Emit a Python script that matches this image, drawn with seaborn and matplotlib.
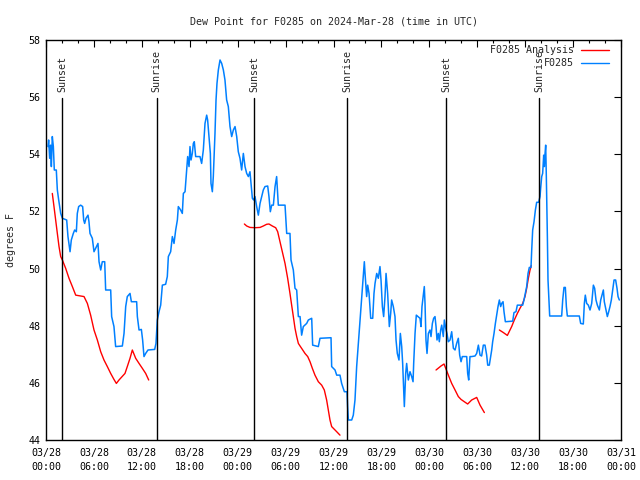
import matplotlib
matplotlib.use("Agg")
import matplotlib.pyplot as plt
import seaborn as sns
import pandas as pd

# observed dew point (hours after 2024-03-28 00:00 UTC, degrees F)
obs_hours = [
    0.25, 0.33, 0.46, 0.58, 0.67, 0.79, 0.92, 1.04, 1.29, 1.42, 1.59, 1.84, 2.05, 2.59, 2.75, 3.01, 3.17, 3.42,
    3.59, 3.80, 3.92, 4.09, 4.34, 4.59, 4.72, 4.84, 5.01, 5.26, 5.38, 5.51, 5.80, 6.01, 6.22, 6.51, 6.64, 6.85,
    7.05, 7.35, 7.47, 8.10, 8.22, 8.51, 8.72, 9.56, 9.77, 9.98, 10.18, 10.52, 10.69, 11.35, 11.44, 11.65, 11.94,
    12.10, 12.27, 12.48, 12.77, 13.61, 13.77, 13.94, 14.15, 14.36, 14.57, 14.98, 15.19, 15.32, 15.61, 15.82,
    16.03, 16.24, 16.45, 16.57, 16.86, 17.07, 17.20, 17.41, 17.74, 17.91, 18.03, 18.16, 18.32, 18.45, 18.57,
    18.74, 19.28, 19.49, 19.70, 19.91, 20.12, 20.24, 20.41, 20.58, 20.66, 20.83, 20.95, 21.16, 21.29, 21.41,
    21.58, 21.79, 22.00, 22.21, 22.41, 22.62, 22.83, 23.04, 23.25, 23.46, 23.67, 23.88, 24.08, 24.29, 24.50,
    24.71, 24.92, 25.13, 25.34, 25.54, 25.67, 25.84, 26.00, 26.17, 26.38, 26.59, 26.80, 27.01, 27.21, 27.42,
    27.76, 27.92, 28.09, 28.26, 28.47, 28.68, 28.88, 29.09, 29.93, 30.14, 30.55, 30.68, 30.97, 31.18, 31.39,
    31.60, 31.81, 32.01, 32.22, 32.64, 32.85, 33.27, 33.39, 34.10, 34.31, 35.69, 35.77, 36.19, 36.40, 36.81,
    37.02, 37.36, 37.69, 37.77, 37.86, 38.28, 38.48, 38.69, 38.90, 39.11, 39.32, 39.53, 39.74, 39.86, 39.95,
    40.15, 40.28, 40.45, 40.66, 40.91, 41.07, 41.20, 41.41, 41.61, 41.82, 41.95, 42.12, 42.28, 42.45, 42.58,
    42.78, 42.99, 43.16, 43.28, 43.49, 43.70, 43.83, 43.99, 44.20, 44.37, 44.54, 44.66, 44.79, 44.87, 45.04,
    45.16, 45.37, 45.58, 45.79, 45.96, 46.04, 46.21, 46.37, 46.83, 46.96, 47.08, 47.25, 47.37, 47.46, 47.58,
    47.71, 47.88, 48.08, 48.21, 48.38, 48.54, 48.71, 48.84, 48.96, 49.13, 49.25, 49.42, 49.55, 49.75, 49.88,
    50.05, 50.21, 50.38, 50.59, 50.80, 51.01, 51.22, 51.42, 51.63, 51.80, 51.97, 52.13, 52.68, 52.80, 52.93,
    53.09, 53.30, 53.72, 53.93, 54.14, 54.35, 54.55, 54.76, 54.97, 55.18, 55.31, 55.51, 55.68, 55.81, 55.93,
    56.10, 56.27, 56.43, 56.60, 56.77, 56.93, 57.06, 57.23, 57.35, 57.52, 58.44, 58.60, 58.85, 59.02, 59.69,
    59.85, 60.02, 60.19, 60.36, 60.52, 60.73, 60.82, 60.94, 61.11, 61.28, 61.44, 61.69, 61.86, 61.94, 62.07,
    62.19, 62.32, 62.40, 62.49, 62.57, 62.65, 62.78, 62.86, 62.99, 63.07, 64.57, 64.70, 64.86, 65.03, 65.16,
    65.28, 66.78, 66.95, 67.28, 67.41, 67.53, 67.70, 67.91, 68.12, 68.33, 68.54, 68.70, 68.87, 69.04, 69.29,
    69.46, 69.62, 69.79, 69.91, 70.12, 70.29, 70.46, 70.62, 70.79, 70.96, 71.13, 71.33, 71.50, 71.63, 71.79,
]
obs_values = [
    54.27, 54.50, 53.86, 54.32, 53.57, 54.62, 54.27, 53.45, 53.45, 52.75, 52.40, 51.93, 51.76, 51.70, 51.12, 50.59,
    51.00, 51.23, 51.35, 51.29, 51.93, 52.17, 52.22, 52.17, 51.70, 51.58, 51.76, 51.87, 51.64, 51.23, 51.06, 50.59,
    50.71, 50.88, 50.24, 49.95, 50.24, 50.24, 49.25, 49.25, 48.32, 47.97, 47.27, 47.29, 47.73, 48.67, 49.02, 49.13,
    48.84, 48.84, 48.32, 47.85, 47.87, 47.50, 46.92, 47.03, 47.15, 47.17, 47.38, 48.20, 48.49, 48.72, 49.42, 49.45,
    49.72, 50.42, 50.59, 51.12, 50.88, 51.35, 51.70, 52.17, 52.05, 51.93, 52.63, 52.69, 53.92, 53.57, 54.27, 53.80,
    54.03, 54.38, 54.44, 53.92, 53.92, 53.68, 54.15, 55.08, 55.37, 55.20, 54.62, 54.03, 52.98, 52.69, 53.22, 54.73,
    55.90, 56.48, 56.95, 57.30, 57.18, 56.95, 56.60, 55.90, 55.67, 54.97, 54.62, 54.85, 54.97, 54.62, 54.09, 53.86,
    53.45, 54.03, 53.57, 53.33, 53.22, 53.39, 52.98, 52.46, 52.40, 52.52, 52.17, 51.87, 52.28, 52.52, 52.75, 52.87,
    52.89, 52.52, 51.99, 52.22, 52.22, 52.87, 53.22, 52.22, 52.22, 51.23, 51.23, 50.30, 49.95, 49.31, 49.25, 48.32,
    48.32, 47.67, 47.97, 48.08, 48.20, 48.26, 47.32, 47.27, 47.56, 47.58, 46.57, 46.45, 46.27, 46.27, 45.98, 45.69,
    45.69, 45.17, 44.70, 44.70, 44.87, 45.40, 46.57, 47.38, 48.14, 49.02, 49.83, 50.24, 49.83, 49.02, 49.42, 49.13,
    48.26, 48.26, 49.13, 49.48, 49.83, 49.66, 50.07, 49.60, 48.67, 48.32, 49.02, 49.83, 49.13, 47.97, 48.43, 48.90,
    48.67, 48.32, 47.50, 47.03, 46.80, 47.73, 47.27, 46.68, 45.75, 45.17, 46.33, 46.68, 46.10, 46.39, 46.22, 46.04,
    46.68, 47.73, 48.37, 48.26, 47.97, 48.67, 49.07, 49.37, 48.78, 47.50, 47.03, 47.73, 47.85, 47.62, 48.08, 48.26,
    48.32, 47.97, 47.50, 47.73, 47.44, 47.85, 48.02, 47.62, 48.20, 47.91, 47.73, 47.44, 47.50, 47.79, 47.21, 47.15,
    47.38, 47.56, 46.97, 46.74, 46.92, 46.92, 46.33, 46.10, 46.92, 46.92, 46.94, 47.03, 47.32, 46.97, 46.94, 47.32,
    47.32, 46.97, 46.62, 46.62, 46.92, 47.15, 47.44, 47.73, 48.08, 48.37, 48.67, 48.90, 48.67, 48.78, 48.84, 48.49,
    48.14, 48.16, 48.46, 48.49, 48.72, 48.72, 48.90, 49.13, 49.37, 49.83, 50.04, 50.04, 50.65, 51.35, 51.64, 52.05,
    52.32, 52.32, 52.52, 52.81, 53.22, 53.33, 53.97, 53.57, 54.03, 54.32, 53.22, 51.12, 49.60, 48.78, 48.34, 48.34,
    48.90, 49.34, 49.34, 48.67, 48.34, 48.34, 48.08, 48.06, 48.78, 49.07, 48.78, 48.72, 48.55, 48.78, 49.42, 49.31,
    48.90, 48.72, 48.55, 48.90, 49.07, 49.25, 48.84, 48.55, 48.32, 48.49, 48.67, 48.90, 49.25, 49.60, 49.60, 49.31,
    49.02, 48.90,
]

# analysis runs (four separate pieces)
ana1_hours = [0.79, 1.00, 1.21, 1.42, 1.63, 1.84, 2.05, 2.46, 2.88, 3.30, 3.72, 4.34, 4.76, 5.18, 5.59, 6.01,
              6.43, 6.85, 7.26, 7.68, 8.10, 8.51, 8.81, 9.14, 9.89, 10.18, 10.52, 10.81, 11.23, 11.65, 12.06,
              12.48, 12.86]
ana1_values = [52.63, 52.17, 51.70, 51.23, 50.77, 50.42, 50.30, 50.01, 49.66, 49.37, 49.07, 49.04, 49.02, 48.78,
               48.37, 47.85, 47.50, 47.09, 46.80, 46.57, 46.33, 46.12, 45.98, 46.10, 46.33, 46.57, 46.86, 47.15,
               46.86, 46.68, 46.51, 46.33, 46.10]
ana2_hours = [24.84, 25.13, 25.54, 26.17, 26.80, 27.21, 27.63, 27.92, 28.34, 28.76, 29.01, 29.30, 29.59, 29.93,
              30.26, 30.55, 30.76, 30.97, 31.18, 31.39, 31.60, 31.81, 32.10, 32.43, 32.77, 33.06, 33.35, 33.68,
              34.10, 34.52, 34.85, 35.14, 35.35, 35.56, 35.77, 35.98, 36.40, 36.81]
ana2_values = [51.56, 51.49, 51.44, 51.43, 51.44, 51.49, 51.55, 51.56, 51.49, 51.43, 51.29, 50.94, 50.59, 50.18,
               49.66, 49.13, 48.72, 48.32, 47.91, 47.62, 47.38, 47.29, 47.17, 47.03, 46.92, 46.74, 46.51, 46.27,
               46.04, 45.92, 45.75, 45.40, 45.05, 44.70, 44.47, 44.41, 44.29, 44.17]
ana3_hours = [48.84, 49.46, 49.84, 50.05, 50.38, 50.80, 51.22, 51.63, 51.97, 52.38, 52.80, 53.30, 53.93, 54.35,
              54.89]
ana3_values = [46.45, 46.59, 46.66, 46.51, 46.27, 45.98, 45.75, 45.52, 45.42, 45.34, 45.26, 45.40, 45.49, 45.22,
               44.96]
ana4_hours = [56.77, 57.27, 57.77, 58.31, 58.64, 59.02, 59.35, 59.69, 59.98, 60.19, 60.40, 60.61, 60.77]
ana4_values = [47.85, 47.76, 47.66, 47.97, 48.20, 48.43, 48.61, 48.78, 49.02, 49.31, 49.66, 49.95, 50.11]

sun_hours = [2.04, 13.86, 26.08, 37.73, 50.09, 61.77]
sun_labels = ["Sunset", "Sunrise", "Sunset", "Sunrise", "Sunset", "Sunrise"]

tick_hours = [0, 6, 12, 18, 24, 30, 36, 42, 48, 54, 60, 66, 72]
tick_labels = ["03/28\n00:00", "03/28\n06:00", "03/28\n12:00", "03/28\n18:00",
               "03/29\n00:00", "03/29\n06:00", "03/29\n12:00", "03/29\n18:00",
               "03/30\n00:00", "03/30\n06:00", "03/30\n12:00", "03/30\n18:00",
               "03/31\n00:00"]

base = pd.Timestamp("2024-03-28 00:00")


def to_time(hours):
    return base + pd.to_timedelta(hours, unit="h")


obs = pd.DataFrame({"time": to_time(obs_hours), "dewpoint": obs_values})
pieces = []
for i, (h, v) in enumerate([(ana1_hours, ana1_values), (ana2_hours, ana2_values),
                            (ana3_hours, ana3_values), (ana4_hours, ana4_values)]):
    pieces.append(pd.DataFrame({"time": to_time(h), "dewpoint": v, "piece": i}))
ana = pd.concat(pieces, ignore_index=True)

sns.set_style("white")
plt.rcParams["font.family"] = ["DejaVu Sans Mono", "DejaVu Sans"]
plt.rcParams["font.size"] = 7.2

fig = plt.figure(figsize=(6.4, 4.8), dpi=100)
ax = fig.add_axes([46 / 640, 40 / 480, 575 / 640, 400 / 480])

blue = "#0080ff"
red = "#ff0000"
sns.lineplot(data=ana, x="time", y="dewpoint", units="piece", estimator=None,
             color=red, linewidth=1.0, ax=ax, legend=False, sort=False)
sns.lineplot(data=obs, x="time", y="dewpoint", estimator=None,
             color=blue, linewidth=1.1, ax=ax, legend=False, sort=False)

for h, lab in zip(sun_hours, sun_labels):
    t = to_time(h)
    ax.axvline(t, ymin=0, ymax=0.855, color="black", linewidth=1.0)
    ax.text(t, 0.87, lab, transform=ax.get_xaxis_transform(), rotation=90,
            ha="center", va="bottom", fontsize=7.2)

ax.set_xlim(to_time(0), to_time(72))
ax.set_ylim(44, 58)
ax.set_yticks(range(44, 59, 2))
ax.set_xticks(to_time(tick_hours), labels=tick_labels, linespacing=1.45)
ax.set_xticks(to_time(list(range(0, 73, 2))), minor=True)

ax.tick_params(which="both", direction="in", top=True, right=True, colors="black",
               labelsize=7.2)
ax.tick_params(which="major", length=5, width=0.8)
ax.tick_params(which="minor", length=2.5, width=0.8)
ax.tick_params(axis="x", pad=6)
ax.tick_params(axis="y", pad=4)
for s in ax.spines.values():
    s.set_color("black")
    s.set_linewidth(1.0)

ax.set_xlabel("")
ax.set_ylabel("degrees F", fontsize=7.2)
ax.yaxis.set_label_coords(-0.053, 0.5)
ax.set_title("Dew Point for F0285 on 2024-Mar-28 (time in UTC)", fontsize=7.2, pad=11)

# gnuplot-style key: right-aligned labels with sample line on the right
for label, color, yk in [("F0285 Analysis", red, 0.975), ("F0285", blue, 0.943)]:
    ax.text(0.918, yk, label, transform=ax.transAxes, ha="right", va="center", fontsize=7.2)
    ax.plot([0.930, 0.979], [yk, yk], transform=ax.transAxes, color=color, linewidth=1.0)

fig.savefig("out.png", dpi=100)
